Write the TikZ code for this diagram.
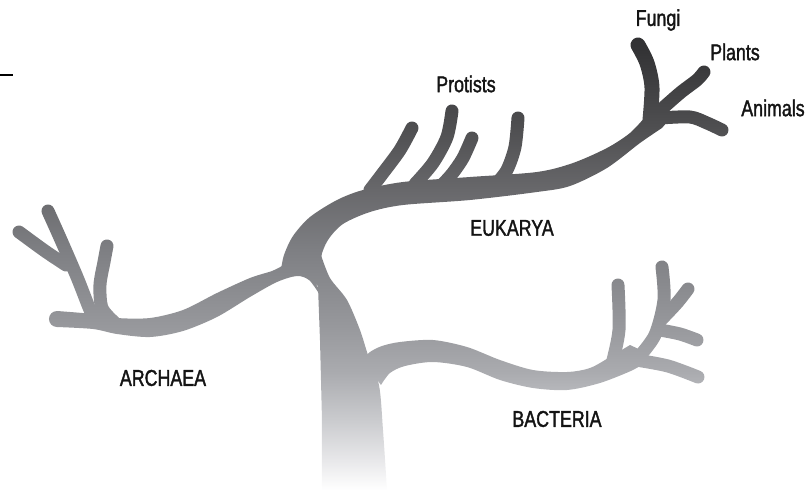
\documentclass[tikz,border=0pt]{standalone}
\usepackage{fontspec}
\setsansfont{Liberation Sans}[FakeStretch=0.78, FakeBold=1.5]
\usetikzlibrary{fadings}

\definecolor{labeltext}{HTML}{141414}
\definecolor{bark0}{HTML}{2A2A2C}
\definecolor{bark1}{HTML}{333335}
\definecolor{bark2}{HTML}{505052}
\definecolor{bark3}{HTML}{68686B}
\definecolor{bark4}{HTML}{7E7F83}
\definecolor{bark5}{HTML}{96979B}
\definecolor{bark6}{HTML}{AAABAF}
\definecolor{bark7}{HTML}{CBCCCF}
\definecolor{bark8}{HTML}{E8E8EA}

% dark crown, pale roots
\pgfdeclareverticalshading{treeshade}{100bp}{%
  color(0bp)=(white); color(25bp)=(white); color(28bp)=(bark8);
  color(32bp)=(bark7); color(37bp)=(bark6); color(42bp)=(bark5);
  color(49.5bp)=(bark4); color(55.6bp)=(bark3); color(61.7bp)=(bark2);
  color(70bp)=(bark1); color(75bp)=(bark0); color(100bp)=(bark0)}

\tikzset{
  twig/.style={line width=0.26cm, line cap=round, line join=round},
  taxon/.style={font=\sffamily\fontsize{13}{15}\selectfont, text=labeltext, inner sep=0pt},
}

% the whole tree, in pixel coordinates
\newcommand{\treebody}{%
  %--- Trunk
  \fill plot[smooth] coordinates {(387,490) (383,430) (379,385) (368,355) (360,330) (347,300) (330,278) (321,255)}
    -- (300,258) -- (296,270) -- (318,286) -- (320,340) -- (322,420) -- (322,490) -- cycle;
  %--- Eukarya
  \fill plot[smooth] coordinates {(281,270) (284,255) (293,236) (310,217) (337,200) (363,190) (403,182) (470,177)
      (537,172) (573,163) (607,148) (630,133) (646,116)}
    -- (668,121)
    -- plot[smooth] coordinates {(662,128) (640,143) (607,168) (570,186) (537,192) (470,200) (403,205) (370,212)
      (343,224) (328,240) (321,258) (322,282)} -- (300,274) -- cycle;
  %--- Protists
  \draw[twig] plot[smooth] coordinates {(370,190) (383,173) (400,150) (412,128)};
  \draw[twig] plot[smooth] coordinates {(415,184) (433,163) (447,137) (452,111)};
  \draw[twig] plot[smooth] coordinates {(441,186) (452,174) (463,158) (472,138)};
  \draw[twig] plot[smooth] coordinates {(496,184) (507,170) (515,147) (518,118)};
  %--- Fungi, plants, animals
  \draw[twig, line width=0.3cm] plot[smooth] coordinates {(650,120) (652,87) (647,63) (638,45)};
  \draw[twig] plot[smooth] coordinates {(655,115) (680,93) (697,80) (704,72)};
  \draw[twig] plot[smooth] coordinates {(660,118) (690,117) (707,123) (722,130)};
  %--- Archaea
  \fill plot[smooth] coordinates {(57,311) (93,314) (117,318) (150,318) (183,310) (217,293) (250,278) (272,271) (282,266)}
    -- (300,262) -- (320,290)
    -- plot[smooth] coordinates {(318,292) (309,280) (297,276) (277,282) (250,297) (217,317) (183,331) (150,337)
      (117,334) (93,329) (57,327)} -- cycle;
  \fill (57,319) circle (8);
  \draw[twig] plot[smooth] coordinates {(95,322) (88,305) (77,277) (61,240) (48,211)};
  \draw[twig] plot[smooth] coordinates {(66,265) (45,251) (19,232)};
  \draw[twig] plot[smooth] coordinates {(114,322) (102,308) (100,285) (104,262) (107,246)};
  %--- Bacteria
  \fill plot[smooth] coordinates {(362,360) (370,352) (382,346) (400,342) (433,340) (467,347) (500,360) (533,370)
      (567,372) (590,368) (610,357) (630,345)}
    -- (645,352)
    -- plot[smooth] coordinates {(645,362) (633,370) (600,383) (567,390) (533,388) (500,380) (467,367) (433,362)
      (405,366) (390,373) (381,385)} -- cycle;
  \draw[twig] plot[smooth] coordinates {(612,364) (619,330) (618,285)};
  \draw[twig] plot[smooth] coordinates {(638,358) (655,335) (664,300) (662,267)};
  \draw[twig] plot[smooth] coordinates {(661,320) (677,303) (688,289)};
  \draw[twig] plot[smooth] coordinates {(660,330) (680,334) (697,340)};
  \draw[twig] plot[smooth] coordinates {(636,360) (668,366) (698,377)};
}

\begin{tikzfadingfrompicture}[name=treemask]
  \begin{scope}[x=0.02cm, y=-0.02cm, shift={(-404.5,-245)}, color=transparent!0]
    \path (0,0) rectangle (809,490);
    \treebody
  \end{scope}
\end{tikzfadingfrompicture}

\begin{document}
\begin{tikzpicture}[x=0.02cm, y=-0.02cm, shift={(-404.5,-245)}]
  \useasboundingbox (0,0) rectangle (809,490);
  %--- Tree
  \shade[shading=treeshade, path fading=treemask, fit fading=false] (0,0) rectangle (809,490);
  %--- Tick
  \draw[line width=0.04cm] (0,75) -- (13,75);
  %--- Labels
  \node[taxon] (fungi) at (658,20) {Fungi};
  \node[taxon] (plants) at (735,52) {Plants};
  \node[taxon] (animals) at (773,108) {Animals};
  \node[taxon] (protists) at (466,84) {Protists};
  \node[taxon] (eukarya) at (512,228) {EUKARYA};
  \node[taxon] (archaea) at (163,378) {ARCHAEA};
  \node[taxon] (bacteria) at (557,419) {BACTERIA};
\end{tikzpicture}
\end{document}
